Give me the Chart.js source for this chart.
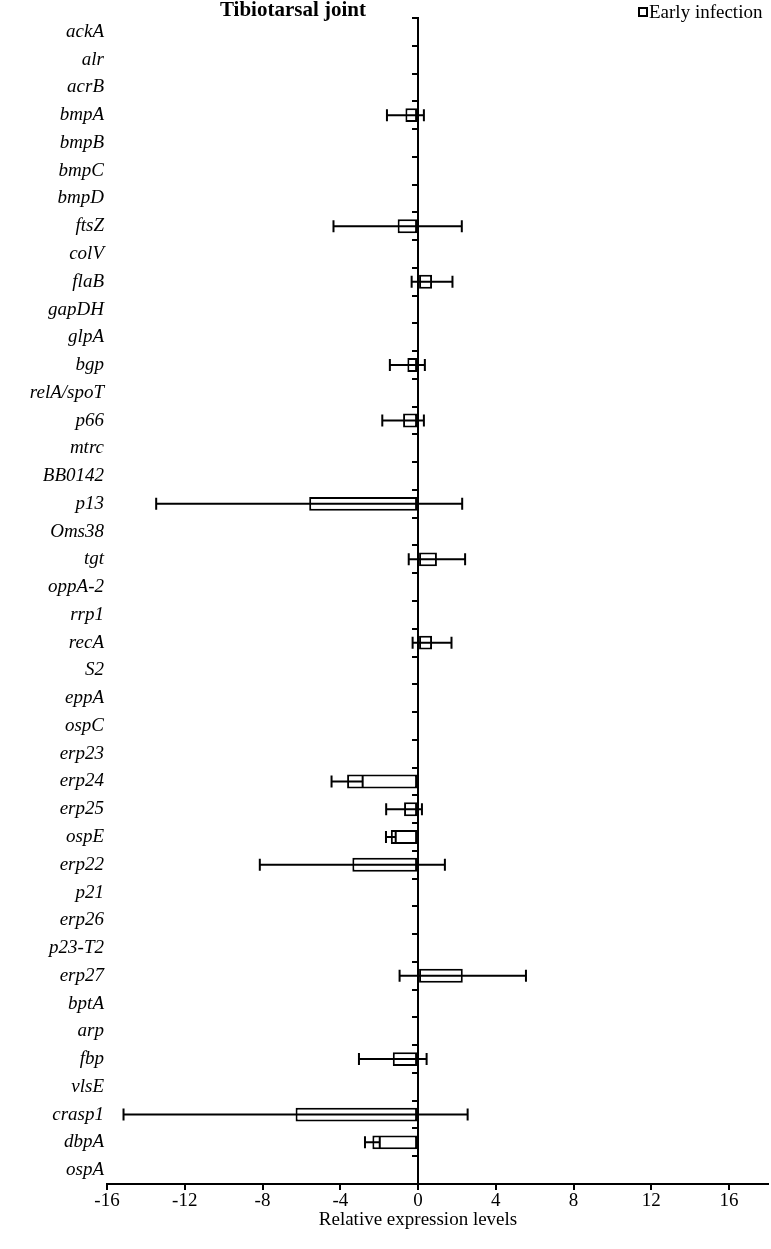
<!DOCTYPE html>
<html>
<head>
<meta charset="utf-8">
<script src="https://cdn.jsdelivr.net/npm/chart.js@4.4.1/dist/chart.umd.min.js"></script>
<style>
  html, body { margin: 0; padding: 0; background: #fff; }
  #wrap { width: 771px; height: 1249px; }
</style>
</head>
<body>
<div id="wrap"><canvas id="tibiotarsalChart"></canvas></div>
<script>
// Tibiotarsal joint - early infection, relative expression
const genes = [
  "ackA", "alr", "acrB", "bmpA", "bmpB", "bmpC", "bmpD", "ftsZ", "colV", "flaB",
  "gapDH", "glpA", "bgp", "relA/spoT", "p66", "mtrc", "BB0142", "p13", "Oms38", "tgt",
  "oppA-2", "rrp1", "recA", "S2", "eppA", "ospC", "erp23", "erp24", "erp25", "ospE",
  "erp22", "p21", "erp26", "p23-T2", "erp27", "bptA", "arp", "fbp", "vlsE", "crasp1",
  "dbpA", "ospA"
];
const earlyInfection = [
  0, 0, 0, -0.65, 0, 0, 0, -1.05, 0, 0.72,
  0, 0, -0.55, 0, -0.77, 0, 0, -5.6, 0, 0.97,
  0, 0, 0.72, 0, 0, 0, 0, -3.65, -0.72, -1.4,
  -3.38, 0, 0, 0, 2.3, 0, 0, -1.3, 0, -6.3,
  -2.35, 0
];
const earlyInfectionError = [
  0, 0, 0, 0.95, 0, 0, 0, 3.3, 0, 1.05,
  0, 0, 0.9, 0, 1.07, 0, 0, 7.87, 0, 1.45,
  0, 0, 1.0, 0, 0, 0, 0, 0.8, 0.92, 0.25,
  4.76, 0, 0, 0, 3.25, 0, 0, 1.74, 0, 8.85,
  0.38, 0
];
const xTickValues = [-16, -12, -8, -4, 0, 4, 8, 12, 16];

const serif = "'Liberation Serif', 'Times New Roman', serif";

// error bars + title, legend and axis title
const extrasPlugin = {
  id: "extras",
  afterDatasetsDraw(chart) {
    const ctx = chart.ctx;
    const xScale = chart.scales.x;
    const meta = chart.getDatasetMeta(0);
    ctx.save();
    ctx.strokeStyle = "#000";
    ctx.lineWidth = 2;
    earlyInfectionError.forEach(function (err, i) {
      if (!err) return;
      const y = meta.data[i].y;
      const x1 = xScale.getPixelForValue(earlyInfection[i] - err);
      const x2 = xScale.getPixelForValue(earlyInfection[i] + err);
      ctx.beginPath();
      ctx.moveTo(x1, y);
      ctx.lineTo(x2, y);
      ctx.moveTo(x1, y - 6);
      ctx.lineTo(x1, y + 6);
      ctx.moveTo(x2, y - 6);
      ctx.lineTo(x2, y + 6);
      ctx.stroke();
    });
    ctx.restore();
  },
  afterDraw(chart) {
    const ctx = chart.ctx;
    ctx.save();
    ctx.fillStyle = "#000";
    ctx.textBaseline = "middle";

    ctx.font = "bold 21px " + serif;
    ctx.textAlign = "center";
    ctx.fillText("Tibiotarsal joint", 293, 11);

    ctx.font = "19px " + serif;
    ctx.fillText("Relative expression levels", 418, 1220);

    ctx.strokeStyle = "#000";
    ctx.lineWidth = 2;
    ctx.strokeRect(639, 8, 8, 8);
    ctx.textAlign = "left";
    ctx.fillText("Early infection", 649, 13);
    ctx.restore();
  },
};

new Chart(document.getElementById("tibiotarsalChart"), {
  type: "bar",
  data: {
    labels: genes,
    datasets: [
      {
        label: "Early infection",
        data: earlyInfection,
        backgroundColor: "#ffffff",
        borderColor: "#000000",
        borderWidth: 2,
        borderSkipped: false,
        barPercentage: 0.5,
        categoryPercentage: 1,
      },
    ],
  },
  options: {
    indexAxis: "y",
    responsive: true,
    maintainAspectRatio: false,
    animation: false,
    layout: {
      padding: { top: 18, right: 3, left: 0, bottom: 0 },
    },
    plugins: {
      legend: { display: false },
      tooltip: { enabled: false },
    },
    scales: {
      x: {
        type: "linear",
        min: -16,
        max: 18,
        afterBuildTicks: function (scale) {
          scale.ticks = xTickValues.map((v) => ({ value: v }));
        },
        afterFit: function (scale) {
          scale.height = 65;
        },
        grid: {
          drawOnChartArea: false,
          drawTicks: true,
          tickLength: 6,
          color: "#000",
          lineWidth: 2,
        },
        border: { color: "#000", width: 2 },
        ticks: {
          color: "#000",
          padding: 0,
          maxRotation: 0,
          font: { family: serif, size: 19 },
        },
      },
      y: {
        type: "category",
        position: "left",
        afterFit: function (scale) {
          scale.width = 107;
        },
        grid: { display: false, drawTicks: false },
        border: { display: false },
        ticks: {
          color: "#000",
          padding: 3,
          autoSkip: false,
          font: { family: serif, size: 19, style: "italic" },
        },
      },
      yZero: {
        type: "category",
        position: { x: 0 },
        offset: true,
        grid: {
          offset: true,
          drawOnChartArea: false,
          drawTicks: true,
          tickLength: 5,
          color: "#000",
          lineWidth: 2,
        },
        border: { color: "#000", width: 2 },
        ticks: { display: false, autoSkip: false },
      },
    },
  },
  plugins: [extrasPlugin],
});
</script>
</body>
</html>
